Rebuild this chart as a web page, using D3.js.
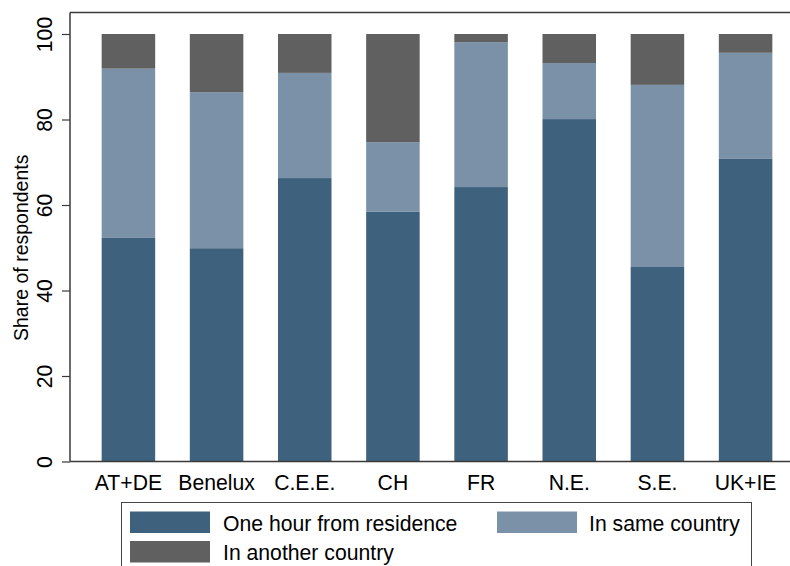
<!DOCTYPE html>
<html>
<head>
<meta charset="utf-8">
<script src="https://cdn.jsdelivr.net/npm/d3@7"></script>
<style>
  html, body { margin: 0; padding: 0; background: #fff; }
  svg { display: block; font-family: Arial, "Liberation Sans", sans-serif; }
</style>
</head>
<body>
<svg id="chart" width="790" height="566"></svg>
<script>
const categories = ["AT+DE", "Benelux", "C.E.E.", "CH", "FR", "N.E.", "S.E.", "UK+IE"];
const seriesNames = ["One hour from residence", "In same country", "In another country"];
const oneHour = [52.3, 49.9, 66.3, 58.4, 64.2, 80.1, 45.5, 70.9];
const sameCountry = [39.6, 36.5, 24.6, 16.3, 33.9, 13.1, 42.6, 24.7];
const anotherCountry = [8.1, 13.6, 9.1, 25.3, 1.9, 6.8, 11.9, 4.4];
const yTicks = [0, 20, 40, 60, 80, 100];
const colors = ["#3e627d", "#7b91a7", "#606060"];

const svg = d3.select("#chart");
const fs = 21.2;
const fsTitle = 19.5;

const x = d3.scaleBand().domain(categories).range([70, 804]).paddingInner(0.393).paddingOuter(0.359);
const y = d3.scaleLinear().domain([0, 100]).range([461.5, 34]);

const rows = categories.map((c, i) => ({ cat: c, s0: oneHour[i], s1: sameCountry[i], s2: anotherCountry[i] }));
const stack = d3.stack().keys(["s0", "s1", "s2"]);
const layers = stack(rows);

svg.append("g").selectAll("g").data(layers).join("g")
  .attr("fill", (d, i) => colors[i])
  .selectAll("rect").data(d => d).join("rect")
  .attr("x", d => x(d.data.cat))
  .attr("width", x.bandwidth())
  .attr("y", d => y(Math.min(d[1], 100)))
  .attr("height", d => y(d[0]) - y(Math.min(d[1], 100)));

// frame lines
const frameColor = "#3a3a3a";
svg.append("line").attr("x1", 70).attr("x2", 790).attr("y1", 12.5).attr("y2", 12.5)
  .attr("stroke", frameColor).attr("stroke-width", 1.5);

// y axis
const yAxis = svg.append("g").attr("transform", "translate(70,0)")
  .call(d3.axisLeft(y).tickValues(yTicks).tickSize(8).tickFormat(d3.format("d")));
yAxis.select(".domain").attr("d", "M0,12.5V461.5").attr("stroke", frameColor).attr("stroke-width", 1.5);
yAxis.selectAll(".tick line").attr("stroke", frameColor).attr("stroke-width", 1.2);
yAxis.selectAll(".tick text")
  .attr("x", null).attr("dy", null)
  .attr("transform", "translate(-18,0) rotate(-90)")
  .attr("text-anchor", "middle")
  .attr("fill", "#000")
  .style("font-size", fs + "px")
  .style("font-family", "Arial, 'Liberation Sans', sans-serif");

// x axis
const xAxis = svg.append("g").attr("transform", "translate(0,461.5)")
  .call(d3.axisBottom(x).tickSize(0));
xAxis.select(".domain").attr("d", "M70,0H790").attr("stroke", frameColor).attr("stroke-width", 1.5);
xAxis.selectAll(".tick text")
  .attr("y", 28).attr("dy", null)
  .attr("fill", "#000")
  .style("font-size", fs + "px")
  .style("font-family", "Arial, 'Liberation Sans', sans-serif");

// y title
svg.append("text")
  .attr("transform", "translate(28," + ((34 + 461.5) / 2) + ") rotate(-90)")
  .attr("text-anchor", "middle")
  .style("font-size", fsTitle + "px")
  .text("Share of respondents");

// legend
const lg = svg.append("g");
lg.append("rect").attr("x", 121.5).attr("y", 502.5).attr("width", 630).attr("height", 90)
  .attr("fill", "#fff").attr("stroke", "#444").attr("stroke-width", 1);
const legendPos = [
  { sx: 130, sy: 511.5, tx: 223, ty: 531 },
  { sx: 497, sy: 511.5, tx: 589, ty: 531 },
  { sx: 130, sy: 541, tx: 223, ty: 559.5 }
];
seriesNames.forEach((name, i) => {
  const p = legendPos[i];
  lg.append("rect").attr("x", p.sx).attr("y", p.sy).attr("width", 80).attr("height", 21.5).attr("fill", colors[i]);
  lg.append("text").attr("x", p.tx).attr("y", p.ty).style("font-size", fs + "px").text(name);
});
</script>
</body>
</html>
